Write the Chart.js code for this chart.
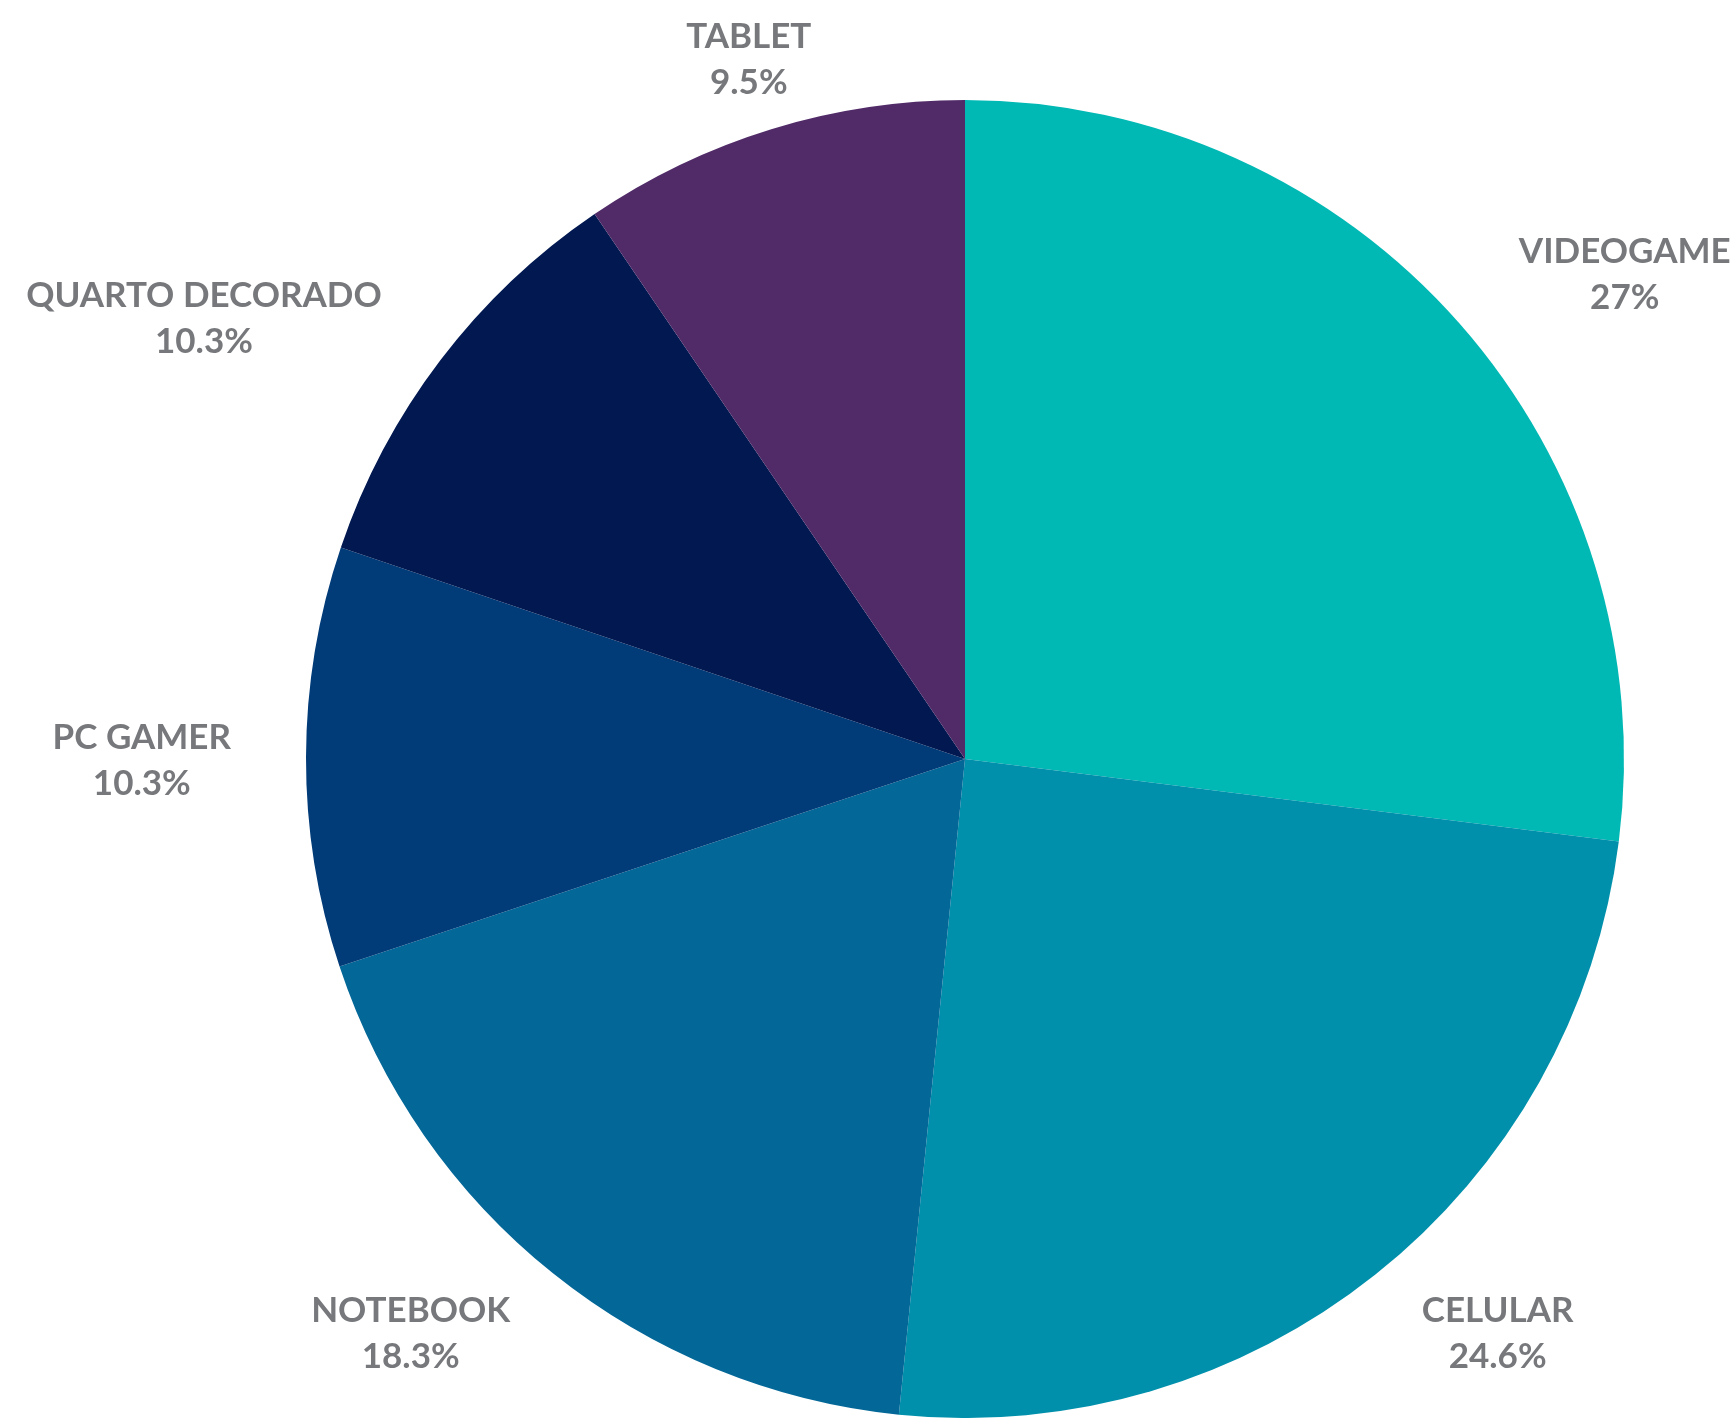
<!DOCTYPE html>
<html>
<head>
<meta charset="utf-8">
<script src="https://cdn.jsdelivr.net/npm/chart.js@4.4.1/dist/chart.umd.min.js"></script>
<style>
  html, body { margin: 0; padding: 0; background: #ffffff; }
  #wrap { width: 1736px; height: 1418px; }
</style>
</head>
<body>
<div id="wrap"><canvas id="pieChart" width="1736" height="1418"></canvas></div>
<script>
/* DATA */
var categories = ["VIDEOGAME", "CELULAR", "NOTEBOOK", "PC GAMER", "QUARTO DECORADO", "TABLET"];
var shares = [27, 24.6, 18.3, 10.3, 10.3, 9.5];
var sliceColors = ["#00B8B4", "#0090AB", "#036798", "#013B78", "#011851", "#512B68"];

/* LABEL LAYOUT (nudges from the slice's outside anchor) */
var labelNudge = [[68, -4], [60, 3], [-65, 4], [-51, 2], [-76, -1], [3, -4]];
var labelColor = "#76787b";
var labelFont = "bold 35px Lato";

// draws "NAME / value%" outside each slice, anchored on the arc mid angle
var outsideLabels = {
    id: "outsideLabels",
    afterDatasetsDraw: function(chart) {
        var ctx = chart.ctx;
        var arcs = chart.getDatasetMeta(0).data;
        ctx.save();
        ctx.font = labelFont;
        ctx.fillStyle = labelColor;
        ctx.textAlign = "center";
        ctx.textBaseline = "alphabetic";
        arcs.forEach(function(arc, i) {
            var p = arc.getProps(["x", "y", "startAngle", "endAngle", "outerRadius"], true);
            var mid = (p.startAngle + p.endAngle) / 2;
            var ux = Math.cos(mid), uy = Math.sin(mid);
            var line1 = categories[i];
            var line2 = shares[i] + "%";
            var w = Math.max(ctx.measureText(line1).width, ctx.measureText(line2).width);
            var h = 92;
            var r = p.outerRadius + 24;
            var cx = p.x + r * ux + ux * w / 2 + labelNudge[i][0];
            var cy = p.y + r * uy + uy * h / 2 + labelNudge[i][1];
            ctx.fillText(line1, cx, cy - 23 + 13);
            ctx.fillText(line2, cx, cy + 23 + 13);
        });
        ctx.restore();
    }
};

var chart = new Chart(document.getElementById("pieChart"), {
    type: "pie",
    data: {
        labels: categories,
        datasets: [{
            data: shares,
            backgroundColor: sliceColors,
            borderWidth: 0,
            hoverOffset: 0
        }]
    },
    options: {
        responsive: false,
        animation: false,
        devicePixelRatio: 1,
        layout: {
            padding: { left: 305, right: 111, top: 100, bottom: -2 }
        },
        plugins: {
            legend: { display: false },
            tooltip: { enabled: false }
        }
    },
    plugins: [outsideLabels]
});
</script>
</body>
</html>
